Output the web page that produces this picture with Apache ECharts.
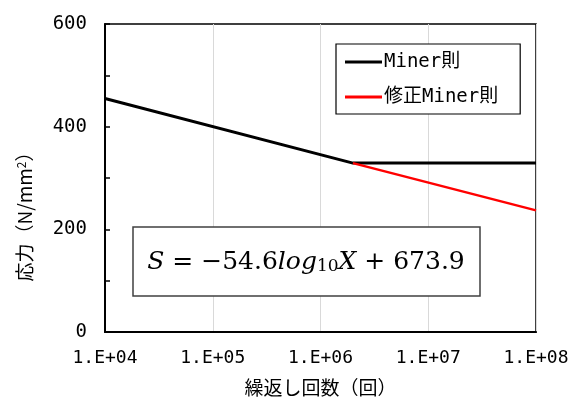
<!DOCTYPE html>
<html><head><meta charset="utf-8">
<script src="https://cdn.jsdelivr.net/npm/echarts@6/dist/echarts.min.js"></script>
<style>html,body{margin:0;padding:0;background:#fff}#c{width:581px;height:408px}</style>
</head><body><div id="c"></div>
<script>
const seriesNames = ['Miner則', '修正Miner則'];
const minerX = [1e4, 2e6, 1e8];
const minerY = [455, 329, 329];
const modX = [2e6, 1e8];
const modY = [329, 237];
const yTicks = [0, 200, 400, 600];
const xAxisName = '繰返し回数（回）';
const yAxisName = '応力（N/mm{sup|2}）';

const monoFont = '"DejaVu Sans Mono", "Noto Sans CJK JP", monospace';
const cjkFont = '"Noto Sans CJK JP", sans-serif';
const chart = echarts.init(document.getElementById('c'), null, {renderer: 'canvas'});
const zip = (xs, ys) => xs.map((x, i) => [x, ys[i]]);

chart.setOption({
  animation: false,
  backgroundColor: '#fff',
  grid: {left: 105, top: 24, right: 45, bottom: 76, show: true, borderColor: '#000', borderWidth: 1.5, backgroundColor: 'transparent'},
  legend: {
    data: seriesNames,
    orient: 'vertical',
    left: 336, top: 44,
    padding: [7, 22, 6, 9],
    itemWidth: 37, itemHeight: 3, itemGap: 13,
    icon: 'rect',
    borderColor: '#000', borderWidth: 1.2,
    backgroundColor: '#fff',
    textStyle: {fontFamily: monoFont, fontSize: 19, color: '#000', lineHeight: 22, padding: [0, 0, 0, -3]}
  },
  xAxis: {
    type: 'log', logBase: 10, min: 1e4, max: 1e8,
    name: xAxisName, nameLocation: 'middle', nameGap: 46,
    nameTextStyle: {fontFamily: cjkFont, fontSize: 19, color: '#000'},
    axisLine: {lineStyle: {color: '#000', width: 2}},
    axisTick: {show: false},
    axisLabel: {fontFamily: monoFont, fontSize: 18, color: '#000', margin: 17,
      formatter: v => '1.E+' + String(Math.round(Math.log10(v))).padStart(2, '0')},
    splitLine: {show: true, lineStyle: {color: '#d9d9d9', width: 1}}
  },
  yAxis: {
    type: 'value', min: 0, max: 600, interval: 100,
    name: yAxisName, nameLocation: 'middle', nameGap: 70, nameRotate: 90,
    nameTextStyle: {fontFamily: cjkFont, fontSize: 19, color: '#000', padding: [0, 68, 0, 0],
      rich: {sup: {fontFamily: cjkFont, fontSize: 12, verticalAlign: 'top', padding: [0, 0, 8, 0]}}},
    axisLine: {show: true, lineStyle: {color: '#000', width: 2}},
    axisTick: {show: true, inside: true, length: 5, lineStyle: {color: '#000', width: 1.5}},
    axisLabel: {fontFamily: monoFont, fontSize: 19, color: '#000', margin: 18,
      formatter: v => yTicks.includes(v) ? String(v) : ''},
    splitLine: {show: false}
  },
  series: [
    {name: seriesNames[0], type: 'line', data: zip(minerX, minerY), showSymbol: false, symbol: 'none',
      lineStyle: {color: '#000', width: 3}, itemStyle: {color: '#000'}, z: 2},
    {name: seriesNames[1], type: 'line', data: zip(modX, modY), showSymbol: false, symbol: 'none',
      lineStyle: {color: '#ff0000', width: 2.5}, itemStyle: {color: '#ff0000'}, z: 3}
  ],
  graphic: [
    {type: 'rect', shape: {x: 133, y: 227, width: 347, height: 69},
      style: {fill: '#fff', stroke: '#404040', lineWidth: 1.5}, z: 10},
    {type: 'text', x: 306, y: 262, z: 11,
      style: {
        text: '{i|S} = −54.6{i|log}{sub|10}{i|X} + 673.9',
        align: 'center', verticalAlign: 'middle',
        fontFamily: '"DejaVu Serif", serif', fontSize: 25, fill: '#000',
        rich: {
          i: {fontFamily: '"DejaVu Serif", serif', fontStyle: 'italic', fontSize: 25},
          sub: {fontFamily: '"DejaVu Serif", serif', fontSize: 17, verticalAlign: 'bottom', padding: [10, 0, 0, 0]}
        }
      }}
  ]
});
</script></body></html>
